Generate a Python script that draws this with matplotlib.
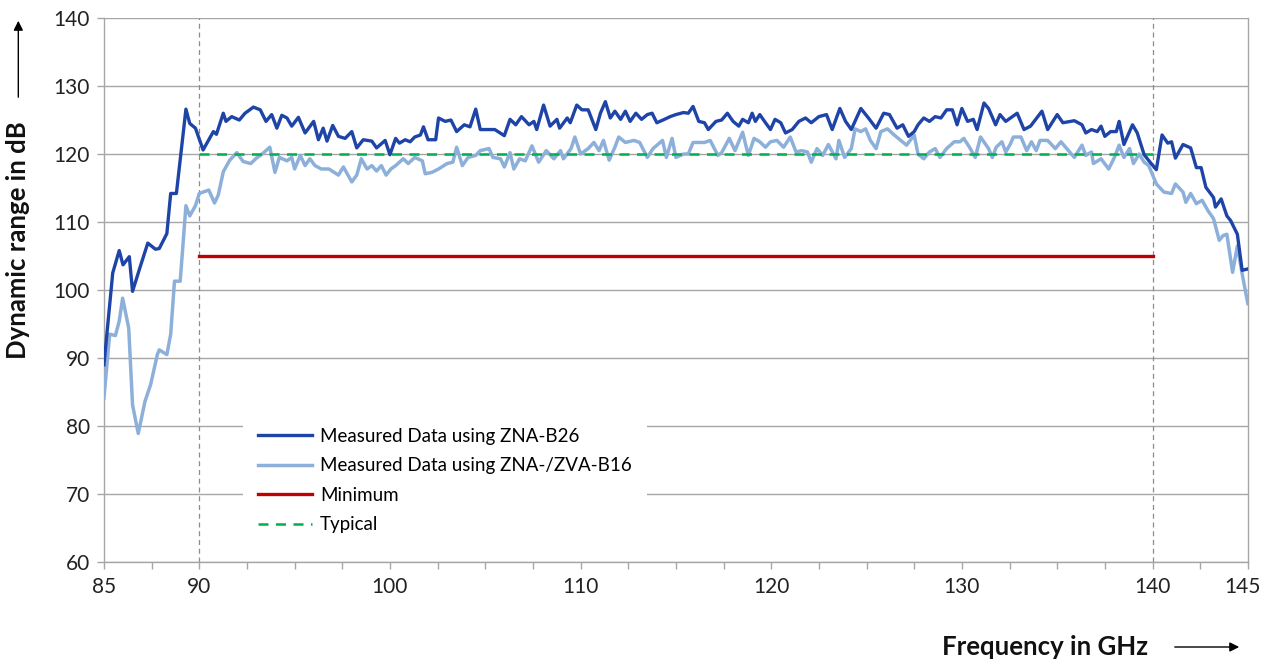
import numpy as np
import matplotlib
matplotlib.use("Agg")
import matplotlib.pyplot as plt
import matplotlib.transforms as mtransforms

plt.rcParams["font.family"] = ["Lato", "DejaVu Sans"]

# ZNA-B26 (dark blue)
freq_b26 = [85.0, 85.46, 85.8, 86.0, 86.33, 86.5, 86.9, 87.3, 87.7, 87.9, 88.3, 88.5, 88.8, 89.3, 89.5, 89.8,
            90.2, 90.74, 90.9, 91.26, 91.4, 91.7, 92.1, 92.4, 92.84, 93.2, 93.5, 93.8, 94.07, 94.33, 94.6, 94.85,
            95.2, 95.55, 96.0, 96.25, 96.5, 96.7, 97.0, 97.3, 97.65, 98.0, 98.26, 98.6, 99.05, 99.3, 99.75,
            100.0, 100.3, 100.5, 100.8, 101.06, 101.3, 101.6, 101.76, 102.0, 102.4, 102.55, 102.9, 103.2, 103.5,
            103.9, 104.2, 104.5, 104.74, 105.1, 105.5, 106.0, 106.3, 106.6, 106.9, 107.3, 107.55, 107.7, 108.06,
            108.4, 108.76, 108.9, 109.3, 109.46, 109.8, 110.07, 110.4, 110.8, 111.04, 111.3, 111.56, 111.8, 112.1,
            112.35, 112.6, 112.9, 113.2, 113.5, 113.75, 114.0, 114.4, 114.7, 115.0, 115.4, 115.65, 115.9, 116.2,
            116.5, 116.7, 117.1, 117.4, 117.7, 118.0, 118.3, 118.5, 118.8, 119.0, 119.17, 119.4, 119.7, 119.96,
            120.2, 120.5, 120.75, 121.1, 121.45, 121.8, 122.1, 122.5, 122.9, 123.2, 123.6, 123.9, 124.2, 124.7,
            125.1, 125.5, 125.9, 126.2, 126.6, 126.9, 127.2, 127.5, 127.7, 128.0, 128.3, 128.6, 128.9, 129.2,
            129.5, 129.75, 130.0, 130.3, 130.6, 130.8, 131.16, 131.4, 131.77, 132.0, 132.3, 132.55, 132.9, 133.26,
            133.6, 134.2, 134.5, 135.0, 135.3, 135.9, 136.3, 136.5, 136.8, 137.1, 137.3, 137.5, 137.8, 138.1,
            138.25, 138.5, 138.95, 139.2, 139.56, 139.9, 140.2, 140.5, 140.8, 141.0, 141.2, 141.6, 142.0, 142.3,
            142.55, 142.8, 143.2, 143.3, 143.6, 143.9, 144.1, 144.45, 144.7, 145.0]
dr_b26 = [89.0, 102.5, 105.8, 103.7, 104.9, 99.8, 103.4, 106.9, 106.0, 106.1, 108.3, 114.2, 114.2, 126.6, 124.5, 123.8,
          120.6, 123.3, 122.9, 126.0, 124.8, 125.5, 125.0, 126.0, 126.9, 126.5, 124.8, 125.8, 123.8, 125.7, 125.3, 124.1,
          125.4, 123.1, 124.8, 122.1, 123.8, 121.9, 124.2, 122.6, 122.3, 123.3, 120.9, 122.1, 121.9, 120.9, 122.0,
          119.9, 122.3, 121.6, 122.1, 121.8, 122.5, 122.8, 124.0, 122.1, 122.1, 125.3, 124.8, 125.0, 123.3,
          124.3, 124.0, 126.6, 123.6, 123.6, 123.6, 122.7, 125.1, 124.3, 125.5, 124.3, 124.8, 123.6, 127.2,
          124.1, 125.1, 123.8, 125.3, 124.6, 127.2, 126.5, 126.5, 123.6, 126.0, 127.7, 125.3, 126.3, 125.1,
          126.3, 124.8, 126.0, 125.1, 125.8, 126.0, 124.6, 125.1, 125.5, 125.8, 126.1, 126.0, 127.0, 124.8,
          124.6, 123.6, 124.8, 125.0, 126.0, 124.8, 124.1, 125.1, 124.6, 126.0, 124.8, 125.8, 124.6, 123.6,
          125.1, 124.6, 123.1, 123.6, 124.8, 125.3, 124.6, 125.5, 125.8, 123.6, 126.7, 124.8, 123.6, 126.7,
          125.3, 123.8, 126.0, 125.8, 123.8, 124.3, 122.6, 123.3, 124.3, 125.3, 124.8, 125.5, 125.3, 126.5,
          126.5, 124.3, 126.7, 124.8, 125.1, 123.6, 127.5, 126.7, 124.3, 125.8, 124.8, 125.3, 126.0, 123.6,
          124.1, 126.3, 123.6, 125.8, 124.6, 124.9, 124.3, 123.1, 123.6, 123.3, 124.1, 122.6, 123.3, 123.3,
          124.8, 121.4, 124.3, 123.1, 119.9, 118.7, 117.7, 122.8, 121.6, 121.8, 119.4, 121.4, 120.9, 118.0,
          118.0, 115.1, 113.6, 112.2, 113.4, 110.9, 110.2, 108.2, 102.9, 103.1]

# ZNA-/ZVA-B16 (light blue)
freq_b16 = [85.0, 85.3, 85.6, 85.8, 85.98, 86.3, 86.5, 86.8, 87.15, 87.45, 87.8, 87.9, 88.3, 88.5, 88.7, 89.0,
            89.3, 89.5, 89.8, 90.0, 90.5, 90.8, 91.0, 91.26, 91.6, 91.97, 92.3, 92.7, 93.0, 93.3, 93.7, 93.97,
            94.2, 94.6, 94.85, 95.0, 95.3, 95.55, 95.8, 96.07, 96.4, 96.8, 97.3, 97.56, 98.0, 98.26, 98.5, 98.8,
            99.05, 99.3, 99.55, 99.8, 100.05, 100.3, 100.7, 100.96, 101.3, 101.7, 101.85, 102.2, 102.55, 103.0,
            103.3, 103.5, 103.8, 104.1, 104.5, 104.74, 105.2, 105.4, 105.8, 106.0, 106.3, 106.5, 106.8, 107.1,
            107.45, 107.8, 108.2, 108.6, 108.95, 109.1, 109.5, 109.7, 110.0, 110.4, 110.7, 110.97, 111.2, 111.5,
            111.8, 112.0, 112.35, 112.8, 113.1, 113.5, 113.8, 114.3, 114.5, 114.8, 115.0, 115.4, 115.65, 115.9,
            116.5, 116.8, 117.2, 117.4, 117.8, 118.1, 118.5, 118.8, 119.1, 119.4, 119.7, 119.96, 120.3, 120.65,
            121.0, 121.3, 121.6, 121.9, 122.1, 122.4, 122.7, 123.0, 123.4, 123.55, 123.85, 124.2, 124.4, 124.7,
            124.95, 125.2, 125.5, 125.75, 126.1, 126.45, 126.8, 127.1, 127.5, 127.7, 128.0, 128.3, 128.6, 128.85,
            129.2, 129.6, 129.9, 130.1, 130.4, 130.7, 130.98, 131.4, 131.6, 131.8, 132.1, 132.3, 132.55, 132.7,
            133.1, 133.4, 133.65, 133.9, 134.1, 134.5, 134.9, 135.2, 135.5, 135.9, 136.3, 136.5, 136.8, 136.9,
            137.3, 137.7, 138.0, 138.25, 138.5, 138.8, 139.0, 139.3, 139.56, 139.8, 140.2, 140.6, 141.0, 141.2,
            141.6, 141.75, 142.0, 142.3, 142.6, 142.9, 143.2, 143.5, 143.7, 143.9, 144.2, 144.45, 144.7, 145.0]
dr_b16 = [84.1, 93.5, 93.3, 95.4, 98.8, 94.4, 83.1, 78.9, 83.6, 86.1, 90.5, 91.2, 90.5, 93.5, 101.3, 101.3,
          112.4, 110.9, 112.4, 114.2, 114.7, 112.8, 114.0, 117.4, 119.1, 120.2, 118.9, 118.6, 119.4, 120.0, 121.0, 117.3,
          119.5, 119.0, 119.5, 117.8, 119.8, 118.3, 119.3, 118.3, 117.8, 117.8, 116.9, 118.1, 115.9, 116.9, 119.3, 117.8,
          118.3, 117.5, 118.3, 116.9, 117.8, 118.3, 119.3, 118.6, 119.5, 119.0, 117.1, 117.3, 117.8, 118.6,
          118.8, 121.0, 118.3, 119.5, 119.8, 120.5, 120.8, 119.5, 119.3, 118.1, 120.2, 117.8, 119.3, 119.0,
          121.2, 118.8, 120.5, 119.3, 120.5, 119.3, 120.8, 122.5, 120.0, 120.8, 121.7, 120.5, 122.0, 119.1,
          121.0, 122.5, 121.7, 122.0, 121.7, 119.5, 120.8, 122.0, 119.5, 122.3, 119.5, 120.0, 120.0, 121.7,
          121.7, 122.0, 119.8, 120.2, 122.3, 120.5, 123.2, 119.8, 122.3, 121.8, 121.0, 121.8, 122.0, 121.0,
          122.5, 120.3, 120.5, 120.3, 118.8, 120.8, 119.8, 121.4, 119.3, 122.0, 119.5, 120.8, 123.7, 123.3,
          123.7, 122.0, 120.8, 123.3, 123.7, 122.8, 122.0, 121.3, 122.8, 120.0, 119.3, 120.3, 120.8, 119.5,
          120.8, 121.8, 121.8, 122.3, 121.0, 119.5, 122.5, 120.8, 119.5, 121.0, 121.8, 120.3, 121.5, 122.5,
          122.5, 120.5, 121.8, 120.5, 122.0, 122.0, 120.8, 121.8, 120.8, 119.5, 121.3, 119.8, 120.3, 118.6,
          119.3, 117.8, 119.5, 121.3, 119.5, 120.8, 118.6, 120.0, 118.8, 118.3, 115.6, 114.4, 114.2, 115.6,
          114.4, 112.9, 114.2, 112.7, 113.2, 111.7, 110.5, 107.3, 108.0, 108.2, 102.6, 106.5, 102.4, 98.0]

spec_freq = [90, 140]
minimum_db = [105, 105]
typical_db = [120, 120]

y_ticks = [60, 70, 80, 90, 100, 110, 120, 130, 140]
x_ticks = np.arange(85, 145.1, 2.5)
x_labelled = [85, 90, 100, 110, 120, 130, 140, 145]

grey = "#a6a6a6"

fig = plt.figure(figsize=(12.63, 6.68), dpi=100)
ax = fig.add_axes([0.0823, 0.1587, 0.9057, 0.8143])

ax.plot(freq_b26, dr_b26, color="#1f44a8", lw=2.4, label="Measured Data using ZNA-B26", zorder=4)
ax.plot(freq_b16, dr_b16, color="#8db0da", lw=2.5, label="Measured Data using ZNA-/ZVA-B16", zorder=3)
ax.plot(spec_freq, minimum_db, color="#c00000", lw=2.4, label="Minimum", zorder=3)
ax.plot(spec_freq, typical_db, color="#00b050", lw=1.8, ls=(0, (4, 3)), label="Typical", zorder=3)

for f in spec_freq:
    ax.axvline(f, color="#8c8c8c", lw=0.9, ls=(0, (4, 3)), zorder=2)

ax.set_xlim(85, 145)
ax.set_ylim(60, 140)
ax.set_yticks(y_ticks)
ax.set_xticks(x_ticks)
ax.set_xticklabels([("%g" % t) if t in x_labelled else "" for t in x_ticks])
ax.tick_params(axis="both", colors=grey, labelcolor="#222222", labelsize=15, length=5, width=1)
ax.tick_params(axis="x", pad=6)
ax.tick_params(axis="y", pad=5)
ax.yaxis.grid(True, color=grey, lw=1, zorder=1)
ax.set_axisbelow(True)
for s in ax.spines.values():
    s.set_color(grey)
    s.set_linewidth(1)
ax.spines["top"].set_visible(False)

# pull the last tick label ("145") slightly left so it stays inside the figure
last = ax.get_xticklabels()[-1]
last.set_transform(last.get_transform() + mtransforms.ScaledTranslation(-5 / 100, 0, fig.dpi_scale_trans))

leg = ax.legend(loc="upper left", bbox_to_anchor=(0.1215, 0.274), frameon=True, fontsize=13.5,
                handlelength=2.9, handletextpad=0.4, labelspacing=0.66, borderpad=0.8,
                borderaxespad=0)
leg.get_frame().set_facecolor("white")
leg.get_frame().set_edgecolor("none")
leg.get_frame().set_alpha(1)
leg.set_zorder(5)

# axis titles with arrows
fig.text(0.0145, 1 - 240 / 668, "Dynamic range in dB", rotation=90, ha="center", va="center",
         fontsize=18.5, fontweight="bold", color="#111111")
fig.add_artist(matplotlib.patches.FancyArrowPatch((0.0145, 1 - 100 / 668), (0.0145, 1 - 18 / 668),
               transform=fig.transFigure, arrowstyle="-|>", mutation_scale=14, color="black", lw=1))
fig.text(1045 / 1263, 1 - 647 / 668, "Frequency in GHz", ha="center", va="center",
         fontsize=18.5, fontweight="bold", color="#111111")
fig.add_artist(matplotlib.patches.FancyArrowPatch((1172 / 1263, 1 - 647 / 668), (1242 / 1263, 1 - 647 / 668),
               transform=fig.transFigure, arrowstyle="-|>", mutation_scale=14, color="black", lw=1))

fig.savefig("out.png", dpi=100)
